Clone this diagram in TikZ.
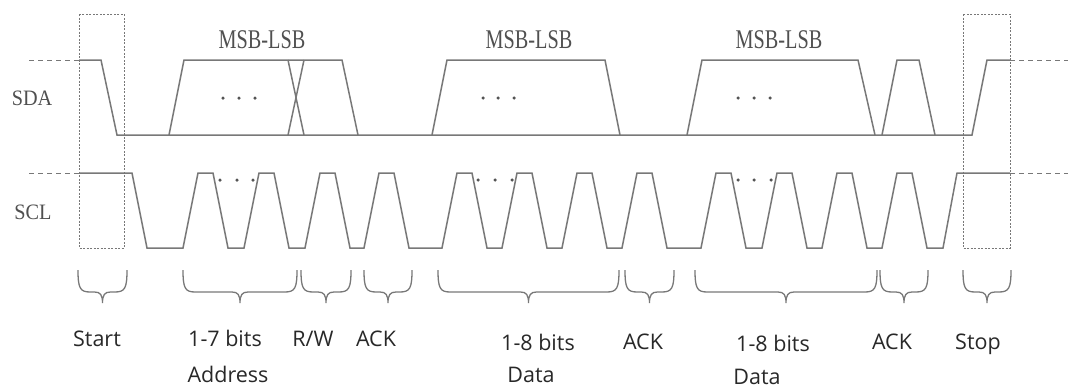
\documentclass[tikz,border=0pt]{standalone}
\usepackage{fontspec}
\usepackage{graphicx}
\setmainfont{Liberation Serif}
\newfontfamily\labfont{Open Sans}
\definecolor{sigcol}{RGB}{120,120,120}
\definecolor{txtcol}{RGB}{80,80,80}
\definecolor{labcol}{RGB}{40,40,40}
\newcommand{\mybrace}[2]{%
  \pgfmathsetmacro{\bm}{(#1+#2)/2}%
  \draw[bracestyle] (#1,270) .. controls (#1,288) and (#1+2,292) .. (#1+12,292)
    -- (\bm-8,292) .. controls (\bm-2,292) and (\bm,295) .. (\bm,303)
    .. controls (\bm,295) and (\bm+2,292) .. (\bm+8,292)
    -- (#2-12,292) .. controls (#2-2,292) and (#2,288) .. (#2,270);}
\begin{document}
\begin{tikzpicture}[x=1pt,y=-1pt,
  sig/.style={draw=sigcol,line width=1.5pt,line join=miter},
  ext/.style={draw=sigcol,line width=1pt,dash pattern=on 5pt off 4pt},
  frame/.style={draw=sigcol,line width=1pt,dash pattern=on 2pt off 1.5pt},
  bracestyle/.style={draw=sigcol,line width=1.3pt},
  dotm/.style={fill=sigcol!70!black,circle,inner sep=0pt,minimum size=3.5pt},
  sigtxt/.style={text=txtcol,font=\fontsize{22}{22}\selectfont,inner sep=0pt},
  msbtxt/.style={text=txtcol,font=\fontsize{27}{27}\selectfont,inner sep=0pt},
  labtxt/.style={text=labcol,font=\labfont\fontsize{21.5}{21.5}\selectfont,inner sep=0pt,anchor=base}]
\useasboundingbox (0,0) rectangle (1068,389);
% frames
\draw[frame] (79,14) rectangle (124,248);
\draw[frame] (963,14) rectangle (1010,248);
% extension lines
\coordinate (sdaL) at (29,60); \coordinate (sdaL2) at (79,60);
\coordinate (sclL) at (29,173); \coordinate (sclL2) at (79,173);
\coordinate (sdaR) at (1010,60); \coordinate (sdaR2) at (1068,60);
\coordinate (sclR) at (1010,173); \coordinate (sclR2) at (1068,173);
\draw[ext] (sdaL) -- (sdaL2);
\draw[ext] (sclL) -- (sclL2);
\draw[ext] (sdaR) -- (sdaR2);
\draw[ext] (sclR) -- (sclR2);
% SDA
\draw[sig] (79,60) -- (101,60) -- (117,135) -- (972,135) -- (987,60) -- (1010,60);
\draw[sig] (169,135) -- (184,60) -- (342,60) -- (358,135);
\draw[sig] (288,60) -- (304,135);
\draw[sig] (304,60) -- (288,135);
\draw[sig] (432,135) -- (447,60) -- (605,60) -- (620,135);
\draw[sig] (687,135) -- (702,60) -- (858,60) -- (875,135);
\draw[sig] (882,135) -- (897,60) -- (919,60) -- (935,135);
% SCL
\draw[sig] (79,173) -- (132,173) -- (147,248)
  \foreach \s in {183,244,305,364,442,502,562,622,701,762,822,882} { -- (\s,248) -- ++(15,-75) -- ++(15,0) -- ++(15,75) }
  -- (943,248) -- (957,173) -- (1010,173);
% dots
\foreach \x in {223,239,255,483,498,514,738,754,770} \node[dotm] at (\x,98) {};
\foreach \x in {220,237,253,478,495,512,738,754,771} \node[dotm] at (\x,180) {};
% signal names
\node[sigtxt] (sda) at (32,98) {\scalebox{0.92}[1]{SDA}};
\node[sigtxt] (scl) at (33,212) {\scalebox{0.92}[1]{SCL}};
\node[msbtxt] (m1) at (262,40) {\scalebox{0.75}[1]{MSB-LSB}};
\node[msbtxt] (m2) at (529,40) {\scalebox{0.75}[1]{MSB-LSB}};
\node[msbtxt] (m3) at (779,40) {\scalebox{0.75}[1]{MSB-LSB}};
% braces
\mybrace{78}{127}
\mybrace{183}{297}
\mybrace{301}{351}
\mybrace{364}{412}
\mybrace{438}{619}
\mybrace{625}{674}
\mybrace{695}{877}
\mybrace{880}{928}
\mybrace{963}{1011}
% labels
\node[labtxt] (lstart) at (97,346) {Start};
\node[labtxt] (laddr1) at (225,346) {1-7 bits};
\node[labtxt] (laddr2) at (228,382) {Address};
\node[labtxt] (lrw) at (313,346) {R/W};
\node[labtxt] (lack1) at (376,346) {ACK};
\node[labtxt] (ld1a) at (538,350) {1-8 bits};
\node[labtxt] (ld1b) at (531,382) {Data};
\node[labtxt] (lack2) at (643,349) {ACK};
\node[labtxt] (ld2a) at (773,351) {1-8 bits};
\node[labtxt] (ld2b) at (757,384) {Data};
\node[labtxt] (lack3) at (892,349) {ACK};
\node[labtxt] (lstop) at (978,349) {Stop};
\end{tikzpicture}
\end{document}
